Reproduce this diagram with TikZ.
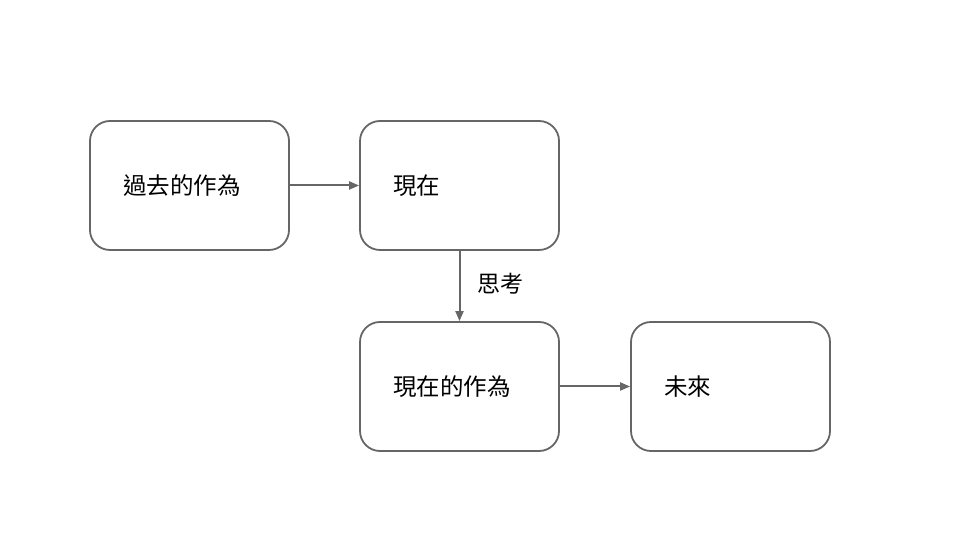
\documentclass[tikz,border=0pt]{standalone}
\usepackage{fontspec}
\usepackage{xcolor}
\usepackage{tikz}
\usetikzlibrary{arrows.meta,positioning}
\newfontfamily\cjk{Noto Sans CJK TC}
\definecolor{edgegray}{HTML}{666666}

\begin{document}
\begin{tikzpicture}[x=1pt, y=1pt, line width=1.8pt]
\tikzstyle{box} = [draw=edgegray, rounded corners=20pt, minimum width=199pt, minimum height=129pt, text width=133pt, inner xsep=33pt, align=left, font=\cjk\fontsize{23.5}{27}\selectfont]
\tikzstyle{flow} = [draw=edgegray, line width=2pt, -{Triangle[length=10pt, width=8pt]}]
\useasboundingbox (0,0) rectangle (960,540);

\node[box] (past) at (189.5,354.5) {過去的作為};
\node[box] (now) at (459.5,354.5) {現在};
\node[box] (act) at (459.5,153.5) {現在的作為};
\node[box] (future) at (730.5,153.5) {未來};

\draw[flow] (past) -- (now);
\draw[flow] (now) -- node[right=14pt, yshift=2pt, font=\cjk\fontsize{23}{27}\selectfont] (think) {思考} (act);
\draw[flow] (act) -- (future);
\end{tikzpicture}
\end{document}
